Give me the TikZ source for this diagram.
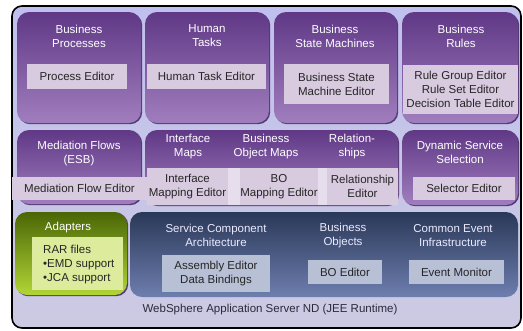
\documentclass[tikz,border=0pt]{standalone}
\usepackage{fontspec}
\setmainfont{Liberation Sans}
\usetikzlibrary{positioning}
\usetikzlibrary{shadows}

\definecolor{backtop}{HTML}{C0C0EE}
\definecolor{backbot}{HTML}{CCCAE2}
\definecolor{purptop}{HTML}{603886}
\definecolor{purpbot}{HTML}{A07EBE}
\definecolor{purpdark}{HTML}{4A2A68}
\definecolor{editorfill}{HTML}{D8CADF}
\definecolor{bandfill}{HTML}{E6DEEC}
\definecolor{greentop}{HTML}{4A6606}
\definecolor{greenbot}{HTML}{B2D636}
\definecolor{greenin}{HTML}{DCEC9C}
\definecolor{scatop}{HTML}{2A3858}
\definecolor{scabot}{HTML}{6E7EAE}
\definecolor{scain}{HTML}{B8C0D6}
\definecolor{runtimetext}{HTML}{2A2A3A}

\begin{document}
\begin{tikzpicture}[x=1pt, y=-1pt,
                every node/.style = {font=\fontsize{11.5}{14}\selectfont, align=center, inner sep=0pt},
                purplebox/.style = {rounded corners=12pt, top color=purptop, bottom color=purpbot,
                                    drop shadow={shadow xshift=1.2pt, shadow yshift=-1.2pt, fill=purpdark, opacity=0.9}},
                editor/.style = {fill=editorfill, text=black!85},
                title/.style = {text=white},
                greenbox/.style = {rounded corners=12pt, top color=greentop, bottom color=greenbot,
                                   drop shadow={shadow xshift=1.2pt, shadow yshift=-1.2pt, fill=purpdark, opacity=0.9}},
                scabox/.style = {rounded corners=12pt, top color=scatop, bottom color=scabot},
                scaeditor/.style = {fill=scain, text=black!85},
                scatitle/.style = {text=white!92!blue}]
            \useasboundingbox (0,0) rectangle (523,330);

            % outer frame
            \node[draw=black, line width=1.6pt, rounded corners=10pt, top color=backtop, bottom color=backbot,
                  minimum width=509pt, minimum height=322pt] (frame) at (266.5,167) {};

            % first row
            \node[purplebox, minimum width=124pt, minimum height=111pt] (bp)  at (79,67.5) {};
            \node[purplebox, minimum width=124pt, minimum height=111pt] (ht)  at (207,67.5) {};
            \node[purplebox, minimum width=123pt, minimum height=111pt] (bsm) at (335.5,67.5) {};
            \node[purplebox, minimum width=116pt, minimum height=111pt] (br)  at (460,67.5) {};

            \node[title] (bp_t)  at (79,36)  {Business\\Processes};
            \node[title] (ht_t)  at (207,36) {Human\\Tasks};
            \node[title] (bsm_t) at (335,36) {Business\\State Machines};
            \node[title] (br_t)  at (461,36) {Business\\Rules};

            \node[editor, minimum width=100pt, minimum height=25pt] (pe)   at (77,76.5)    {Process Editor};
            \node[editor, minimum width=119pt, minimum height=25pt] (hte)  at (206.5,76.5) {Human Task Editor};
            \node[editor, minimum width=105pt, minimum height=40pt] (bsme) at (336.5,84)   {Business State\\Machine Editor};
            \node[editor, minimum width=115pt, minimum height=49pt] (rge)  at (460.5,89)   {Rule Group Editor\\Rule Set Editor\\Decision Table Editor};

            % second row
            \node[purplebox, minimum width=124pt, minimum height=74pt] (mf)   at (79,167) {};
            \node[purplebox, minimum width=253pt, minimum height=75pt] (maps) at (271.5,167.5) {};
            \node[purplebox, minimum width=116pt, minimum height=75pt] (dss)  at (460,167.5) {};

            \node[title] (mf_t)   at (79,153.5)  {Mediation Flows\\(ESB)};
            \node[title] (im_t)   at (188,147)   {Interface\\Maps};
            \node[title] (bom_t)  at (266,147)   {Business\\Object Maps};
            \node[title] (rel_t)  at (352,147)   {Relation-\\ships};
            \node[title] (dss_t)  at (460,152)   {Dynamic Service\\Selection};

            \node[editor, minimum width=135pt, minimum height=23pt] (mfe) at (79.5,188.5) {Mediation Flow Editor};
            \node[fill=bandfill, rounded corners=3pt, minimum width=251pt, minimum height=37pt] (mapband) at (272.5,186.5) {};
            \node[editor, minimum width=81pt, minimum height=37pt] (ime)  at (187.5,186.5) {Interface\\Mapping Editor};
            \node[editor, minimum width=78pt, minimum height=37pt] (boe)  at (279,186.5)   {BO\\Mapping Editor};
            \node[editor, minimum width=71pt, minimum height=37pt] (rele) at (362.5,186.5) {Relationship\\Editor};
            \node[editor, minimum width=102pt, minimum height=23pt] (se)  at (464,188.5)   {Selector Editor};

            % third row
            \node[greenbox, minimum width=112pt, minimum height=83pt] (ad) at (71,253.5) {};
            \node[title] (ad_t) at (68,228) {Adapters};
            \node[fill=greenin, minimum width=91pt, minimum height=53pt] (adi) at (77.5,263.5) {};
            \node[align=left, anchor=west, text=black!85] (rar) at (43,265) {RAR files\\•EMD support\\•JCA support};

            \node[scabox, minimum width=388pt, minimum height=85pt] (sca) at (324,254.5) {};
            \node[scatitle] (sca_t) at (216,235.5) {Service Component\\Architecture};
            \node[scatitle] (bo_t)  at (343,235.5) {Business\\Objects};
            \node[scatitle] (cei_t) at (453,235.5) {Common Event\\Infrastructure};

            \node[scaeditor, minimum width=108pt, minimum height=37pt] (ade)  at (216,273.5) {Assembly Editor\\Data Bindings};
            \node[scaeditor, minimum width=74pt, minimum height=24pt]  (boed) at (345,272)   {BO Editor};
            \node[scaeditor, minimum width=95pt, minimum height=24pt]  (em)   at (456.5,272) {Event Monitor};

            \node[text=runtimetext] (was) at (270,310) {WebSphere Application Server ND (JEE Runtime)};
        \end{tikzpicture}
\end{document}
